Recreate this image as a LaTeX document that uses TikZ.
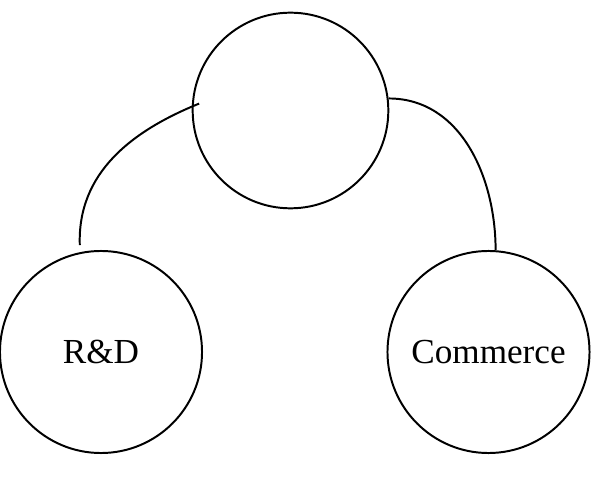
\documentclass[tikz,border=0pt]{standalone}
\usepackage{fontspec}
\setmainfont{Liberation Serif}
\usepackage{tikz}

\begin{document}
\begin{tikzpicture}[
  x=0.025cm, y=0.025cm,
  every node/.style = {font=\fontsize{25}{30}\selectfont},
  unit/.style  = {circle, draw=black, line width=1.4pt, inner sep=0pt},
  link/.style  = {draw=black, line width=1.4pt}
]
\useasboundingbox (0,0) rectangle (593,481);

%% ── CIRCLES ──────────────────────────────────────────────────────
\node[unit, minimum size=4.89cm] at (290.5, 370.5) (hub)      {};
\node[unit, minimum size=5.05cm] at (101,   129)   (rnd)      {R\&D};
\node[unit, minimum size=5.05cm] at (488.5, 129)   (commerce) {Commerce};

%% ── LINKS ────────────────────────────────────────────────────────
\draw[link] ([yshift=0.18cm]rnd.102) to[out=92, in=202] ([xshift=0.18cm]hub.176);
\draw[link] (hub.7) to[out=0, in=90] (commerce.86);

\end{tikzpicture}
\end{document}
